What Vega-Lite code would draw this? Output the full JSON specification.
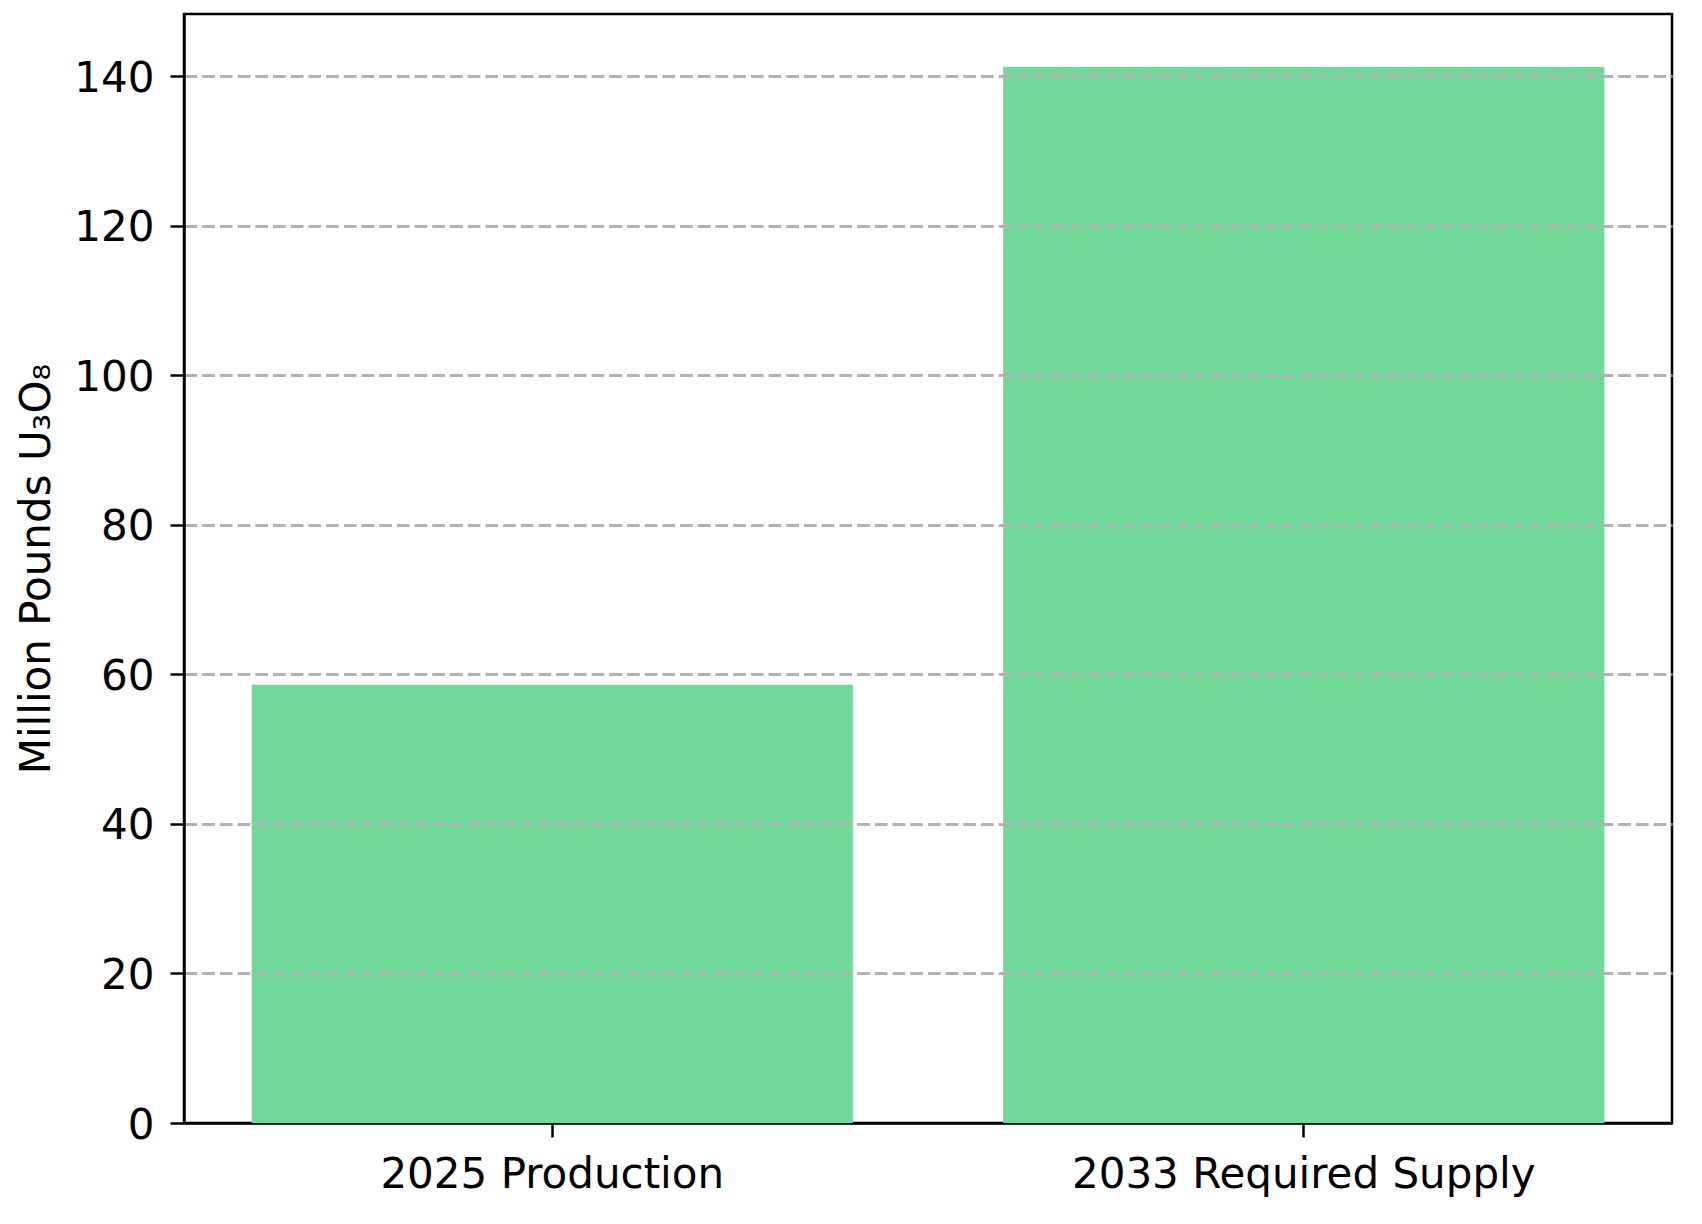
{
  "$schema": "https://vega.github.io/schema/vega-lite/v6.json",
  "width": 1488,
  "height": 1109,
  "autosize": {"type": "none"},
  "padding": {"left": 184, "top": 14, "right": 30, "bottom": 101},
  "background": "white",
  "config": {
    "font": "DejaVu Sans",
    "view": {"stroke": "black", "strokeWidth": 2.5},
    "axis": {
      "labelFont": "DejaVu Sans",
      "titleFont": "DejaVu Sans",
      "labelFontSize": 42,
      "titleFontSize": 42,
      "labelColor": "black",
      "titleColor": "black",
      "titleFontWeight": "normal",
      "domainColor": "black",
      "domainWidth": 2.5,
      "tickColor": "black",
      "tickWidth": 2.5,
      "tickSize": 14,
      "labelLimit": 0
    }
  },
  "data": {
    "values": [
      {"category": "2025 Production", "value": 58.6},
      {"category": "2033 Required Supply", "value": 141.2}
    ]
  },
  "mark": {"type": "bar", "color": "#70D998"},
  "encoding": {
    "x": {
      "field": "category",
      "type": "nominal",
      "sort": null,
      "scale": {"paddingInner": 0.2, "paddingOuter": 0.09},
      "axis": {"title": null, "labelAngle": 0, "grid": false, "labelPadding": 17, "labelLimit": 0}
    },
    "y": {
      "field": "value",
      "type": "quantitative",
      "scale": {"domain": [0, 148.3], "nice": false, "zero": true},
      "axis": {
        "title": "Million Pounds U₃O₈",
        "values": [0, 20, 40, 60, 80, 100, 120, 140],
        "labelPadding": 16,
        "labelOffset": 2,
        "grid": true,
        "gridColor": "#b2b2b2",
        "gridWidth": 2.8,
        "gridDash": [12.7, 5],
        "gridOpacity": {"condition": {"test": "datum.value === 0", "value": 0}, "value": 1},
        "zindex": 1,
        "titleX": -148,
        "titleBaseline": "middle"
      }
    }
  }
}
